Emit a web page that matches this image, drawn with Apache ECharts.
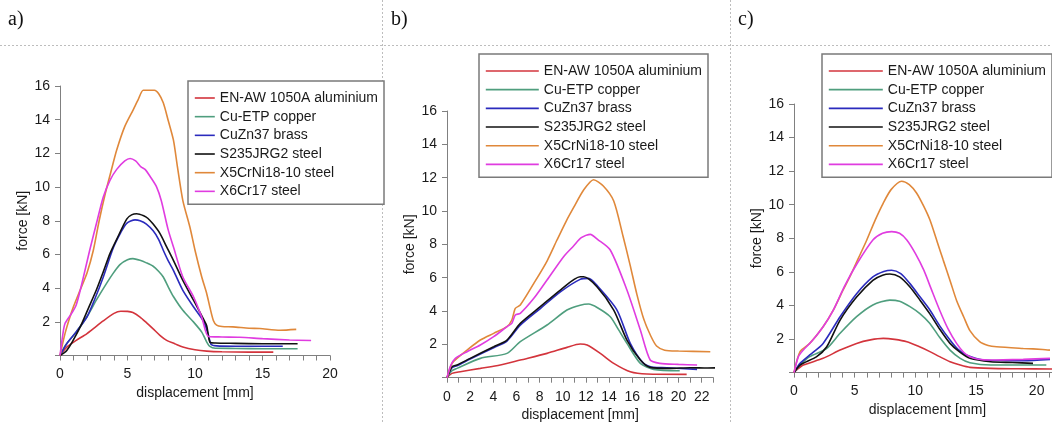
<!DOCTYPE html>
<html>
<head>
<meta charset="utf-8">
<title>force - displacement</title>
<script src="https://cdn.jsdelivr.net/npm/echarts@6/dist/echarts.min.js"></script>
<style>
  html, body { margin: 0; padding: 0; background: #fff; }
  #chart { width: 1052px; height: 423px; }
</style>
</head>
<body>
<div id="chart"></div>
<script>
const materials = ['EN-AW 1050A aluminium', 'Cu-ETP copper', 'CuZn37 brass', 'S235JRG2 steel', 'X5CrNi18-10 steel', 'X6Cr17 steel']
const colors = ['#d3343c', '#4f9e7e', '#2b2bbd', '#111111', '#e0883a', '#e03ce0']

// panel a) - [displacement mm, force kN]
const aAluminium = [[0,0],[0.5,0.5],[1.2,0.9],[2.0,1.3],[3.2,2.05],[4.0,2.5],[4.5,2.63],[5.0,2.62],[5.4,2.55],[5.93,2.28],[6.4,1.95],[6.9,1.58],[7.4,1.2],[7.9,0.9],[8.5,0.7],[9.1,0.5],[10.0,0.34],[10.87,0.26],[12,0.22],[14,0.2],[15.8,0.2]]
const aCopper = [[0,0],[0.4,0.6],[0.74,0.95],[1.3,1.5],[2.0,2.3],[2.7,3.3],[3.46,4.3],[4.0,4.95],[4.44,5.4],[5.0,5.68],[5.4,5.75],[5.93,5.65],[6.4,5.5],[6.9,5.3],[7.3,5.0],[7.65,4.66],[8.0,4.1],[8.4,3.5],[9.1,2.68],[9.9,1.98],[10.5,1.39],[10.87,0.8],[11.1,0.54],[11.5,0.43],[13,0.42],[15,0.4],[17.6,0.4]]
const aBrass = [[0,0],[0.5,0.7],[1.2,1.4],[2.0,2.3],[2.6,3.4],[3.2,4.65],[3.95,6.4],[4.5,7.3],[4.94,7.85],[5.56,8.05],[5.93,8.0],[6.4,7.8],[6.9,7.4],[7.3,6.9],[7.65,6.25],[8.0,5.65],[8.4,5.06],[9.1,3.87],[9.9,2.88],[10.6,2.08],[10.8,1.7],[11.0,1.19],[11.2,0.65],[11.6,0.57],[13,0.55],[16.5,0.55]]
const aS235 = [[0,0],[0.3,0.15],[0.5,0.3],[0.9,0.8],[1.5,1.7],[2.1,2.8],[2.7,3.9],[3.2,4.95],[3.7,6.05],[4.2,6.9],[4.94,8.1],[5.3,8.35],[5.68,8.42],[6.2,8.3],[6.5,8.15],[6.9,7.8],[7.4,7.25],[7.9,6.45],[8.4,5.65],[9.1,4.46],[9.9,3.27],[10.6,2.2],[10.87,1.75],[11.1,0.8],[11.5,0.74],[13,0.72],[15,0.7],[17.6,0.7]]
const aX5CrNi = [[0,0],[0.37,1.3],[0.7,2.2],[1.0,2.9],[1.5,3.9],[2.0,4.9],[2.47,6.25],[2.9,8.0],[3.35,9.6],[3.8,11.0],[4.2,12.2],[4.8,13.6],[5.43,14.6],[5.8,15.2],[6.17,15.75],[7.0,15.75],[7.3,15.55],[7.65,15.0],[8.0,14.0],[8.4,12.8],[8.7,11.2],[9.1,9.2],[9.63,7.6],[10.0,6.25],[10.5,4.66],[10.87,3.67],[11.1,2.88],[11.36,2.08],[11.6,1.8],[12,1.72],[12.8,1.7],[14,1.62],[14.8,1.6],[16.3,1.5],[17.5,1.55]]
const aX6Cr = [[0,0],[0.2,1.2],[0.37,1.9],[0.86,2.5],[1.2,3.0],[1.6,4.2],[2.2,6.25],[2.75,8.0],[3.2,9.4],[3.7,10.4],[4.2,11.05],[4.8,11.55],[5.19,11.7],[5.6,11.55],[6.0,11.2],[6.3,11.05],[6.7,10.6],[7.16,10.0],[7.5,9.2],[8.0,7.5],[8.4,6.45],[9.1,4.66],[9.9,3.47],[10.5,2.28],[11.0,1.13],[12,1.1],[13.3,1.08],[15,1.0],[17,0.92],[18.6,0.89]]

// panel b)
const bAluminium = [[0,0],[0.43,0.26],[1.15,0.36],[2.88,0.56],[4.6,0.76],[6.33,1.06],[8.64,1.46],[10.36,1.82],[11.5,2.02],[12.1,1.96],[13.24,1.46],[14.4,0.86],[15.83,0.36],[17.27,0.22],[20.7,0.2]]
const bCopper = [[0,0],[0.4,0.4],[0.86,0.56],[2.88,1.16],[5.18,1.46],[6.33,2.16],[8.64,3.16],[10.36,4.06],[11.5,4.35],[12.23,4.42],[13,4.2],[14.1,3.66],[14.8,2.9],[15.54,2.06],[16.7,0.86],[17.85,0.5],[20.1,0.42]]
const bBrass = [[0,0],[0.43,0.6],[0.86,0.72],[2.0,1.12],[4.03,1.8],[5.18,2.2],[6.33,3.15],[8.06,4.15],[9.79,5.15],[11.5,5.9],[12.23,5.96],[13.0,5.5],[14.68,4.06],[15.83,2.06],[16.98,0.86],[17.85,0.62],[19,0.6],[21.6,0.5]]
const bS235 = [[0,0],[0.43,0.66],[0.86,0.76],[2.0,1.16],[4.03,1.86],[5.18,2.26],[6.33,3.26],[8.06,4.26],[9.79,5.26],[11.5,6.06],[11.8,6.06],[12.95,5.46],[14.4,4.06],[15.54,2.26],[16.7,1.06],[17.55,0.62],[19.28,0.56],[21,0.6],[22.5,0.58],[23.75,0.6]]
const bX5CrNi = [[0,0],[0.43,0.86],[0.86,1.16],[1.73,1.66],[2.88,2.26],[4.03,2.66],[5.18,3.06],[5.6,3.46],[5.9,4.16],[6.33,4.36],[7.5,5.66],[8.64,7.0],[9.5,8.26],[10.3,9.4],[10.93,10.2],[11.8,11.26],[12.66,11.88],[13.5,11.5],[14.4,10.6],[15.2,8.5],[15.8,6.8],[16.4,5.0],[17.0,3.5],[17.6,2.5],[18.1,1.9],[18.8,1.65],[20,1.6],[22.74,1.56]]
const bX6Cr = [[0,0],[0.3,0.7],[0.72,1.16],[1.73,1.56],[2.88,1.96],[4.03,2.46],[5.18,3.06],[5.6,3.26],[5.9,3.76],[6.33,3.86],[7.5,4.76],[8.64,5.86],[10.07,7.26],[10.93,7.9],[11.6,8.4],[12.38,8.6],[13.0,8.3],[14.1,7.66],[15.54,5.26],[16.7,2.86],[17.55,1.06],[18.4,0.86],[20,0.8],[21.6,0.76]]

// panel c)
const cAluminium = [[0,0],[0.2,0.15],[0.77,0.45],[2.4,0.85],[3.8,1.34],[5.16,1.74],[6.3,1.95],[7.36,2.04],[8.3,1.98],[9.3,1.84],[10.3,1.55],[11.2,1.25],[12.0,0.95],[12.86,0.65],[13.7,0.45],[14.5,0.31],[16.2,0.25],[18.5,0.23],[21.3,0.21]]
const cCopper = [[0,0],[0.5,0.45],[1.3,0.95],[2.7,1.44],[3.8,2.34],[5.16,3.33],[6.5,4.03],[7.9,4.32],[8.7,4.25],[9.56,3.93],[10.4,3.5],[11.2,2.93],[12.0,2.1],[12.86,1.34],[13.7,0.85],[14.5,0.59],[16.2,0.45],[20.8,0.45]]
const cBrass = [[0,0],[0.5,0.55],[1.3,1.05],[2.4,1.74],[3.8,3.33],[5.16,4.7],[6.5,5.7],[7.4,6.02],[8.05,6.1],[8.8,5.9],[9.56,5.3],[10.4,4.5],[11.2,3.73],[12.0,2.8],[12.86,1.94],[13.5,1.4],[14.2,1.05],[15.6,0.75],[17,0.72],[18.9,0.71],[21.1,0.79]]
const cS235 = [[0,0],[0.5,0.45],[1.87,0.95],[2.7,1.54],[3.8,3.13],[5.16,4.5],[6.5,5.5],[7.3,5.8],[7.9,5.87],[8.7,5.7],[9.56,5.1],[10.4,4.3],[11.2,3.5],[12.0,2.6],[12.86,1.74],[13.7,1.2],[14.5,0.85],[16.2,0.65],[18,0.6],[19.7,0.55]]
const cX5CrNi = [[0,0],[0.5,1.25],[1.3,1.74],[2.4,2.73],[3.24,3.72],[4.0,4.85],[4.6,5.7],[5.3,6.8],[6.0,7.9],[6.7,9.1],[7.36,10.1],[8.0,10.9],[8.87,11.4],[9.5,11.2],[10.1,10.7],[10.7,9.9],[11.2,9.1],[11.8,7.8],[12.3,6.7],[12.9,5.4],[13.4,4.3],[14.0,3.3],[14.5,2.5],[15.3,1.84],[16.0,1.62],[16.7,1.54],[18.9,1.44],[20.5,1.38],[21.1,1.34]]
const cX6Cr = [[0,0],[0.36,0.95],[0.77,1.35],[1.5,1.9],[2.4,2.73],[3.24,3.72],[4.2,5.2],[5.2,6.5],[6.5,7.9],[7.3,8.3],[8.05,8.4],[8.7,8.3],[9.3,7.9],[10.0,7.1],[10.7,6.1],[11.3,5.0],[12.0,3.73],[12.7,2.6],[13.4,1.74],[14.0,1.2],[14.5,0.95],[15.2,0.8],[16.2,0.75],[18.9,0.79],[21.1,0.85]]

const panels = [
  [aAluminium, aCopper, aBrass, aS235, aX5CrNi, aX6Cr],
  [bAluminium, bCopper, bBrass, bS235, bX5CrNi, bX6Cr],
  [cAluminium, cCopper, cBrass, cS235, cX5CrNi, cX6Cr]
]
const xMax = [20, 23, 22]
const xLabelStep = [5, 2, 5]
const yTicks = [2, 4, 6, 8, 10, 12, 14, 16]

const font = '"Liberation Sans", Arial, sans-serif'
const axisGray = '#808080'
const textColor = '#1a1a1a'

const grids = [
  { left: 60, top: 86, width: 270, height: 269.5 },
  { left: 447, top: 111, width: 266.3, height: 266.7 },
  { left: 794, top: 104, width: 266.9, height: 268.6 }
].map(g => ({ ...g, outerBoundsMode: 'none', containLabel: false }))

const xAxes = xMax.map((max, i) => ({
  gridIndex: i,
  type: 'value',
  min: 0,
  max: max,
  interval: 1,
  name: 'displacement [mm]',
  nameLocation: 'middle',
  nameGap: 27,
  nameTextStyle: { fontSize: 14, fontFamily: font, color: textColor },
  axisLine: { onZero: false, lineStyle: { color: axisGray, width: 1 } },
  axisTick: { length: 5, lineStyle: { color: axisGray } },
  axisLabel: {
    margin: 12,
    fontSize: 14,
    fontFamily: font,
    color: textColor,
    formatter: v => (v % xLabelStep[i] === 0 ? String(v) : '')
  },
  splitLine: { show: false }
}))

const yAxes = [0, 1, 2].map(i => ({
  gridIndex: i,
  type: 'value',
  min: 0,
  max: yTicks[yTicks.length - 1],
  interval: 2,
  name: 'force [kN]',
  nameLocation: 'middle',
  nameGap: 27,
  nameTextStyle: { fontSize: 14, fontFamily: font, color: textColor },
  axisLine: { show: true, lineStyle: { color: axisGray, width: 1 } },
  axisTick: { show: true, length: 5, lineStyle: { color: axisGray } },
  axisLabel: {
    margin: 10,
    fontSize: 14,
    fontFamily: font,
    color: textColor,
    formatter: v => (yTicks.includes(v) ? String(v) : '')
  },
  splitLine: { show: false }
}))

const series = []
panels.forEach((panel, p) => {
  panel.forEach((data, m) => {
    series.push({
      name: materials[m],
      type: 'line',
      xAxisIndex: p,
      yAxisIndex: p,
      data: data,
      symbol: 'none',
      smooth: 0.25,
      clip: false,
      color: colors[m],
      lineStyle: { color: colors[m], width: 1.6 }
    })
  })
})

function legendAt(left, top, itemWidth) {
  return {
    data: materials,
    orient: 'vertical',
    left: left,
    top: top,
    itemWidth: itemWidth,
    itemHeight: 14,
    itemGap: 4.67,
    padding: [10, 6, 6, 6],
    borderColor: '#7a7a7a',
    borderWidth: 1.5,
    backgroundColor: '#fff',
    selectedMode: false,
    // only the line sample, no dot in the middle
    itemStyle: { opacity: 0, color: 'rgba(0,0,0,0)', borderWidth: 0 },
    lineStyle: { width: 1.6 },
    textStyle: { fontSize: 14, fontFamily: font, color: textColor, lineHeight: 14 }
  }
}

const dotted = { stroke: '#bdbdbd', lineWidth: 1, lineDash: [2, 2] }
const labelFont = '20px "Liberation Serif", "Times New Roman", serif'

const option = {
  animation: false,
  backgroundColor: '#fff',
  grid: grids,
  xAxis: xAxes,
  yAxis: yAxes,
  legend: [legendAt(188, 81, 20), legendAt(479, 54, 53), legendAt(822, 54, 54)],
  series: series,
  graphic: [
    { type: 'line', shape: { x1: 0, y1: 45.5, x2: 1052, y2: 45.5 }, style: dotted, silent: true },
    { type: 'line', shape: { x1: 382.5, y1: 0, x2: 382.5, y2: 423 }, style: dotted, silent: true },
    { type: 'line', shape: { x1: 730.5, y1: 0, x2: 730.5, y2: 423 }, style: dotted, silent: true },
    { type: 'text', left: 8, top: 10, style: { text: 'a)', font: labelFont, fill: '#111' } },
    { type: 'text', left: 391, top: 10, style: { text: 'b)', font: labelFont, fill: '#111' } },
    { type: 'text', left: 738, top: 10, style: { text: 'c)', font: labelFont, fill: '#111' } }
  ]
}

const chart = echarts.init(document.getElementById('chart'), null, { renderer: 'canvas' })
chart.setOption(option)

window.addEventListener('resize', () => {
  chart.resize()
})
</script>
</body>
</html>
